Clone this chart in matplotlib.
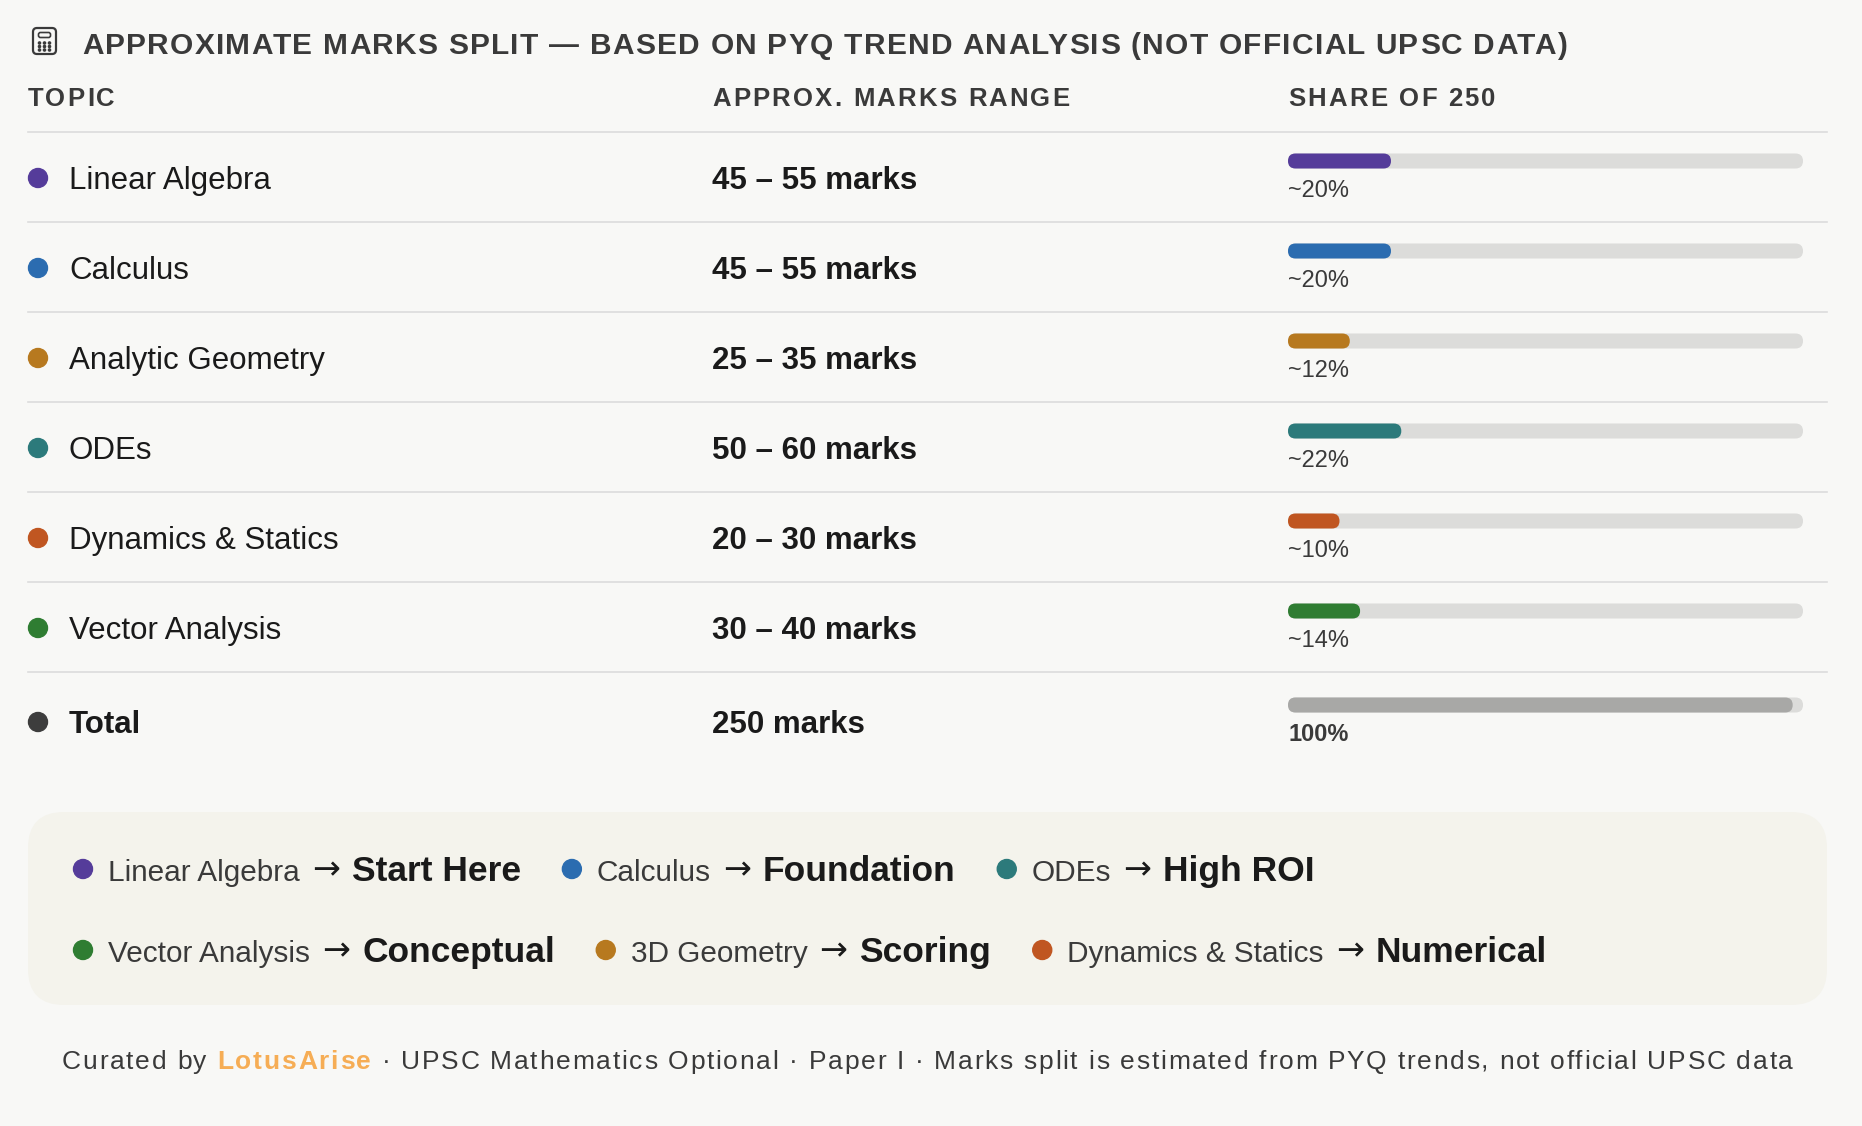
import matplotlib
matplotlib.use("Agg")
import matplotlib.pyplot as plt
from matplotlib.patches import FancyBboxPatch, Circle

plt.rcParams['font.family'] = ['Liberation Sans', 'DejaVu Sans']

# ---- data ----
topics = ['Linear Algebra', 'Calculus', 'Analytic Geometry', 'ODEs',
          'Dynamics & Statics', 'Vector Analysis']
marks_low = [45, 45, 25, 50, 20, 30]
marks_high = [55, 55, 35, 60, 30, 40]
share_pct = [20, 20, 12, 22, 10, 14]
topic_colors = ['#553c9a', '#2b6cb0', '#b7791f', '#2c7a7b', '#c05621', '#2f7d32']
total_marks = 250

legend_topics = ['Linear Algebra', 'Calculus', 'ODEs',
                 'Vector Analysis', '3D Geometry', 'Dynamics & Statics']
legend_roles = ['Start Here', 'Foundation', 'High ROI',
                'Conceptual', 'Scoring', 'Numerical']
legend_colors = ['#553c9a', '#2b6cb0', '#2c7a7b', '#2f7d32', '#b7791f', '#c05621']

title = 'APPROXIMATE MARKS SPLIT \u2014 BASED ON PYQ TREND ANALYSIS (NOT OFFICIAL UPSC DATA)'
headers = ['TOPIC', 'APPROX. MARKS RANGE', 'SHARE OF 250']
footer = [('Curated by ', 'normal', '#3a3a3a'),
          ('LotusArise ', 'bold', '#f6ad55'),
          ('\u00b7 UPSC Mathematics Optional \u00b7 Paper I \u00b7 Marks split is estimated '
           'from PYQ trends, not official UPSC data', 'normal', '#3a3a3a')]

BG = '#f8f8f6'
DARK = '#1a1a1a'
GREY = '#3a3a3a'

W, H = 1862, 1126
fig = plt.figure(figsize=(W / 100, H / 100), dpi=100, facecolor=BG)
ax = fig.add_axes([0, 0, 1, 1])
ax.set_xlim(0, W)
ax.set_ylim(H, 0)
ax.axis('off')
renderer = fig.canvas.get_renderer()


def text_w(s, size, weight='normal', family=None):
    t = ax.text(0, 0, s, fontsize=size, fontweight=weight, family=family)
    w = t.get_window_extent(renderer).width
    t.remove()
    return w


def spaced(x, y, segs, size, spacing, draw=True):
    # letter-spaced text, segs = [(text, weight, color)]
    cur = x
    for s, weight, color in segs:
        sp_w = text_w('a a', size, weight) - text_w('aa', size, weight)
        if draw:
            for i, ch in enumerate(s):
                if ch == ' ':
                    continue
                left = text_w(s[:i + 1], size, weight) - text_w(ch, size, weight)
                ax.text(cur + left + i * spacing, y, ch, fontsize=size,
                        fontweight=weight, color=color, ha='left', va='baseline')
        core = s.rstrip(' ')
        cur += text_w(core, size, weight) + (len(s) - len(core)) * sp_w + len(s) * spacing
    return cur - x


# ---- title with calculator icon ----
ax.add_patch(FancyBboxPatch((33, 28), 23, 26, boxstyle='round,pad=0,rounding_size=4',
                            fc='none', ec=GREY, lw=1.6))
ax.add_patch(FancyBboxPatch((38.5, 32.5), 12, 5, boxstyle='round,pad=0,rounding_size=2',
                            fc='none', ec=GREY, lw=1.2))
for gx in (39.5, 44.5, 49.5):
    for gy in (43, 46.5, 50):
        ax.add_patch(Circle((gx, gy), 1.1, color=GREY))

title_size = 21.5
nat = spaced(0, 0, [(title, 'bold', GREY)], title_size, 0, draw=False)
title_sp = (1485 - nat) / (len(title) - 1)
spaced(82, 54, [(title, 'bold', GREY)], title_size, title_sp)

# ---- table header ----
col_x = [28, 712, 1288]
for hx, htxt in zip(col_x, headers):
    spaced(hx, 106, [(htxt, 'bold', GREY)], 18.5, 2.2)

line_x0, line_x1 = 28, 1827
ax.plot([line_x0, line_x1], [132, 132], color='#dcdcdc', lw=1.2)

# ---- rows ----
track_x0, track_x1 = 1288, 1803
track_w = track_x1 - track_x0
bar_h = 15
row_base = [189 + 90 * i for i in range(len(topics))]


def draw_bar(base, pct, color):
    yc = base - 28
    ax.add_patch(FancyBboxPatch((track_x0, yc - bar_h / 2), track_w, bar_h,
                                boxstyle='round,pad=0,rounding_size=7.5',
                                fc='#dcdcda', ec='none'))
    ax.add_patch(FancyBboxPatch((track_x0, yc - bar_h / 2), track_w * pct / 100, bar_h,
                                boxstyle='round,pad=0,rounding_size=7.5',
                                fc=color, ec='none'))


for i, name in enumerate(topics):
    b = row_base[i]
    ax.add_patch(Circle((38, b - 11), 9.5, color=topic_colors[i]))
    ax.text(69, b, name, fontsize=22.5, color=DARK, va='baseline')
    ax.text(712, b, f'{marks_low[i]} \u2013 {marks_high[i]} marks', fontsize=22.5,
            fontweight='bold', color=DARK, va='baseline')
    draw_bar(b, share_pct[i], topic_colors[i])
    ax.text(track_x0, b + 8, f'~{share_pct[i]}%', fontsize=17, color=GREY, va='baseline')
    ax.plot([line_x0, line_x1], [b + 33, b + 33], color='#dcdcdc', lw=1.2)

# total row
tb = 733
ax.add_patch(Circle((38, tb - 11), 9.5, color='#3d3d3d'))
ax.text(69, tb, 'Total', fontsize=22.5, fontweight='bold', color=DARK, va='baseline')
ax.text(712, tb, f'{total_marks} marks', fontsize=22.5, fontweight='bold', color=DARK,
        va='baseline')
draw_bar(tb, sum(share_pct), '#a8a8a6')
ax.text(track_x0, tb + 8, '100%', fontsize=17, fontweight='bold', color=GREY,
        va='baseline')

# ---- legend box ----
ax.add_patch(FancyBboxPatch((28, 812), 1799, 193, boxstyle='round,pad=0,rounding_size=36',
                            fc='#f4f3ec', ec='none'))
legend_base = [881, 962]
arrow = '\u2192'
for r in range(2):
    x = 83
    b = legend_base[r]
    for k in range(3):
        j = r * 3 + k
        ax.add_patch(Circle((x, b - 12), 9.5, color=legend_colors[j]))
        x += 25
        ax.text(x, b, legend_topics[j], fontsize=21.4, color=GREY, va='baseline')
        x += text_w(legend_topics[j], 21.4) + 12
        ax.text(x, b - 11, arrow, fontsize=24, color=DARK, va='center',
                family='DejaVu Sans')
        x += text_w(arrow, 24, family='DejaVu Sans') + 12
        ax.text(x, b, legend_roles[j], fontsize=25.5, fontweight='bold', color=DARK,
                va='baseline')
        x += text_w(legend_roles[j], 25.5, 'bold') + 51

# ---- footer ----
foot_size = 19
nat = spaced(0, 0, footer, foot_size, 0, draw=False)
nchars = sum(len(s) for s, _, _ in footer)
foot_sp = (1793 - 62 - nat) / (nchars - 1)
spaced(62, 1069, footer, foot_size, foot_sp)

fig.savefig('out.png', dpi=100, facecolor=BG)
